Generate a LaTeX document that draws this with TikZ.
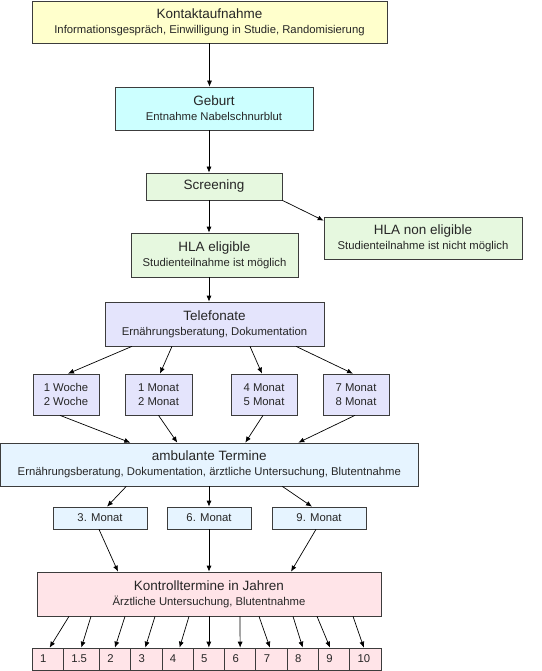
\documentclass[tikz,border=0pt]{standalone}
\usepackage{fontspec}
\setmainfont{Liberation Sans}
\usepackage{xcolor}
\usetikzlibrary{arrows.meta}
\definecolor{boxgray}{HTML}{3C3C3C}
\definecolor{kontaktfill}{HTML}{FFFFCC}
\definecolor{geburtfill}{HTML}{CCFFFF}
\definecolor{hlafill}{HTML}{E6F8DF}
\definecolor{telefill}{HTML}{E4E4FC}
\definecolor{ambfill}{HTML}{E6F4FF}
\definecolor{ctrlfill}{HTML}{FFE4E8}
\newcommand{\boxhead}{\fontsize{13.5}{16}\selectfont}
\newcommand{\boxtext}{\fontsize{11.3}{15}\selectfont}
\tikzstyle{block} = [rectangle, draw = boxgray, text = black!85, align = center, inner sep = 0pt, font = \boxtext]
\tikzstyle{year} = [rectangle, draw = boxgray, fill = ctrlfill, text = black!85, minimum height = 22pt, text width = 15.3pt, inner xsep = 8pt, inner ysep = 0pt, align = left, font = \boxtext]
\tikzstyle{line} = [->, >= {Latex[length = 6pt, width = 5pt]}]

\begin{document}
\begin{tikzpicture}[x = 1pt, y = 1pt, line width = 0.7pt]
        \useasboundingbox (0,0) rectangle (541,-671);
        \node (kontakt) [block, fill = kontaktfill, minimum width = 355pt, minimum height = 42pt] at (209.5,-22) {{\boxhead Kontaktaufnahme}\\Informationsgespräch, Einwilligung in Studie, Randomisierung};
        \node (geburt) [block, fill = geburtfill, minimum width = 198pt, minimum height = 43pt] at (214,-108.5) {{\boxhead Geburt}\\Entnahme Nabelschnurblut};
        \node (screen) [block, fill = hlafill, minimum width = 136pt, minimum height = 27pt, font = \boxhead] at (214,-186.5) {Screening};
        \node (elig) [block, fill = hlafill, minimum width = 167pt, minimum height = 44pt] at (214.5,-255) {{\boxhead HLA eligible}\\Studienteilnahme ist möglich};
        \node (nonelig) [block, fill = hlafill, minimum width = 198pt, minimum height = 42pt] at (423,-238) {{\boxhead HLA non eligible}\\Studienteilnahme ist nicht möglich};
        \node (tele) [block, fill = telefill, minimum width = 219pt, minimum height = 44pt] at (214.5,-324) {{\boxhead Telefonate}\\Ernährungsberatung, Dokumentation};
        \node (w1) [block, fill = telefill, minimum width = 66pt, minimum height = 41pt] at (66,-394.5) {1 Woche\\[-1pt]2 Woche};
        \node (m1) [block, fill = telefill, minimum width = 67pt, minimum height = 41pt, right of = w1, node distance = 92.5pt] {1 Monat\\[-1pt]2 Monat};
        \node (m4) [block, fill = telefill, minimum width = 66pt, minimum height = 41pt, right of = m1, node distance = 105.5pt] {4 Monat\\[-1pt]5 Monat};
        \node (m7) [block, fill = telefill, minimum width = 66pt, minimum height = 41pt, right of = m4, node distance = 92pt] {7 Monat\\[-1pt]8 Monat};
        \node (amb) [block, fill = ambfill, minimum width = 417.5pt, minimum height = 43pt] at (209.3,-464.5) {{\boxhead ambulante Termine}\\Ernährungsberatung, Dokumentation, ärztliche Untersuchung, Blutentnahme};
        \node (q6) [block, fill = ambfill, minimum width = 84pt, minimum height = 22pt] at (209,-518) {6. Monat};
        \node (q3) [block, fill = ambfill, minimum width = 94pt, minimum height = 22pt, left of = q6, node distance = 109pt] {3. Monat};
        \node (q9) [block, fill = ambfill, minimum width = 94pt, minimum height = 22pt, right of = q6, node distance = 110pt] {9. Monat};
        \node (ctrl) [block, fill = ctrlfill, minimum width = 344pt, minimum height = 44pt] at (209,-594) {{\boxhead Kontrolltermine in Jahren}\\Ärztliche Untersuchung, Blutentnahme};
        \node (y1) [year] at (47.65,-659) {1};
        \node (y15) [year, text width = 20pt, right of = y1, node distance = 33.65pt] {1.5};
        \node (y2) [year, right of = y15, node distance = 33.65pt] {2};
        \node (y3) [year, right of = y2, node distance = 31.3pt] {3};
        \node (y4) [year, right of = y3, node distance = 31.3pt] {4};
        \node (y5) [year, right of = y4, node distance = 31.3pt] {5};
        \node (y6) [year, right of = y5, node distance = 31.3pt] {6};
        \node (y7) [year, right of = y6, node distance = 31.3pt] {7};
        \node (y8) [year, right of = y7, node distance = 31.3pt] {8};
        \node (y9) [year, right of = y8, node distance = 31.3pt] {9};
        \node (y10) [year, right of = y9, node distance = 31.3pt] {10};
        \draw[line] (kontakt.south) -- (kontakt.south |- geburt.north);
        \draw[line] ([xshift = -5pt]geburt.south) -- ([xshift = -5pt]screen.north);
        \draw[line] ([xshift = -5pt]screen.south) -- ([xshift = -5.5pt]elig.north);
        \draw[line] (screen.south east) -- ([yshift = -4pt]nonelig.north west);
        \draw[line] ([xshift = -5.5pt]elig.south) -- ([xshift = -5.5pt]tele.north);
        \draw[line] ([xshift = -82.5pt]tele.south) -- ([xshift = 2pt]w1.north);
        \draw[line] ([xshift = -42.5pt]tele.south) -- ([xshift = 1.5pt]m1.north);
        \draw[line] ([xshift = 35.5pt]tele.south) -- ([xshift = -2pt]m4.north);
        \draw[line] ([xshift = 81.5pt]tele.south) -- ([xshift = -3pt]m7.north);
        \draw[line] ([xshift = -6pt]w1.south) -- ([xshift = -79pt]amb.north);
        \draw[line] (m1.south) -- ([xshift = -32pt]amb.north);
        \draw[line] ([xshift = -1pt]m4.south) -- ([xshift = 36pt]amb.north);
        \draw[line] ([xshift = -1pt]m7.south) -- ([xshift = 89pt]amb.north);
        \draw[line] ([xshift = -83pt]amb.south) -- ([xshift = 7pt]q3.north);
        \draw[line] (amb.south -| q6) -- (q6.north);
        \draw[line] ([xshift = 73pt]amb.south) -- ([xshift = -7pt]q9.north);
        \draw[line] ([xshift = -1pt]q3.south) -- ([xshift = -91pt]ctrl.north);
        \draw[line] (q6.south) -- (q6.south |- ctrl.north);
        \draw[line] ([xshift = -3pt]q9.south) -- ([xshift = 82pt]ctrl.north);
        \draw[line] ([xshift = -140pt]ctrl.south) -- ([xshift = 2pt]y1.north);
        \draw[line] ([xshift = -118pt]ctrl.south) -- (y15.north);
        \draw[line] ([xshift = -84pt]ctrl.south) -- (y2.north);
        \draw[line] ([xshift = -54pt]ctrl.south) -- ([xshift = -1pt]y3.north);
        \draw[line] ([xshift = -20pt]ctrl.south) -- ([xshift = 2pt]y4.north);
        \draw[line] (ctrl.south -| y5) -- (y5.north);
        \draw[line] ([xshift = 31pt]ctrl.south) -- (y6.north);
        \draw[line] ([xshift = 50pt]ctrl.south) -- ([xshift = -1.5pt]y7.north);
        \draw[line] ([xshift = 84pt]ctrl.south) -- (y8.north);
        \draw[line] ([xshift = 108pt]ctrl.south) -- ([xshift = -4pt]y9.north);
        \draw[line] ([xshift = 144pt]ctrl.south) -- ([xshift = -1.5pt]y10.north);
    \end{tikzpicture}
\end{document}
